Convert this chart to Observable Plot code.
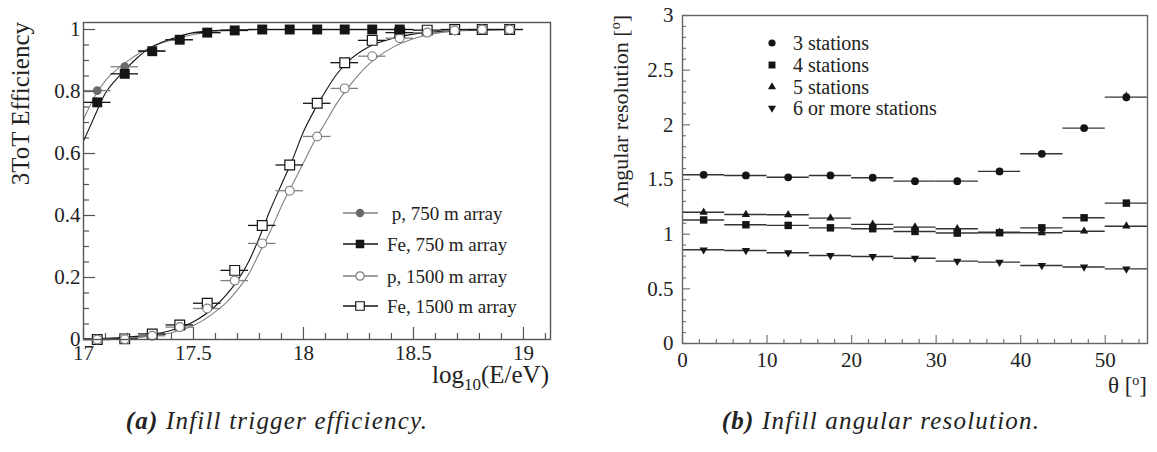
<!DOCTYPE html>
<html><head><meta charset="utf-8">
<script src="https://cdn.jsdelivr.net/npm/d3@7"></script>
<script src="https://cdn.jsdelivr.net/npm/@observablehq/plot@0.6"></script>
<style>
html,body{margin:0;padding:0;background:#fff;}
#wrap{position:relative;width:1157px;height:452px;overflow:hidden;font-family:"Liberation Serif",serif;color:#222;}
#left{position:absolute;left:0;top:0;}
#right{position:absolute;left:590px;top:0;}
.cap{position:absolute;top:407px;font-family:"Liberation Serif",serif;font-style:italic;font-size:25px;letter-spacing:1.2px;white-space:nowrap;transform:translateX(-50%);color:#222;}
</style></head><body>
<div id="wrap"><div id="left"></div><div id="right"></div>
<div class="cap" style="left:277px"><b>(a)</b> Infill trigger efficiency.</div>
<div class="cap" style="left:881px"><b>(b)</b> Infill angular resolution.</div>
</div>
<script>
// ---------- (a) trigger efficiency ----------
const logE = [17.0625, 17.1875, 17.3125, 17.4375, 17.5625, 17.6875, 17.8125, 17.9375, 18.0625, 18.1875, 18.3125, 18.4375, 18.5625, 18.6875, 18.8125, 18.9375];
const logEHalfWidth = 0.0625;
const effP750   = [0.803, 0.880, 0.932, 0.967, 0.990, 0.997, 1, 1, 1, 1, 1, 1];
const effFe750  = [0.765, 0.857, 0.930, 0.967, 0.990, 0.997, 1, 1, 1, 1, 1, 1];
const effP1500  = [0.0, 0.001, 0.012, 0.040, 0.100, 0.190, 0.310, 0.480, 0.655, 0.810, 0.914, 0.972, 0.990, 0.997, 1, 1];
const effFe1500 = [0.0, 0.002, 0.018, 0.047, 0.117, 0.223, 0.368, 0.563, 0.762, 0.893, 0.965, 0.990, 0.998, 1, 1, 1];
// fitted curves as [log10 E, efficiency]
const fitP750 = [[17.0,0.71],[17.06,0.795],[17.1,0.835],[17.15,0.87],[17.2,0.898],[17.25,0.922],[17.3,0.94],[17.35,0.955],[17.4,0.966],[17.45,0.976],[17.5,0.984],[17.6,0.994],[17.7,0.998],[17.8,1.0],[18.5,1.0]];
const fitFe750 = [[17.0,0.64],[17.044,0.71],[17.1,0.795],[17.15,0.84],[17.2,0.878],[17.25,0.912],[17.3,0.94],[17.35,0.957],[17.4,0.97],[17.45,0.981],[17.5,0.99],[17.6,0.997],[17.7,0.999],[17.8,1.0],[18.5,1.0]];
const fitP1500 = [[17.0,0.001],[17.1,0.002],[17.2,0.005],[17.3,0.01],[17.4,0.022],[17.5,0.045],[17.6,0.09],[17.65,0.12],[17.7,0.16],[17.75,0.21],[17.8,0.28],[17.85,0.35],[17.9,0.43],[17.95,0.5],[18.0,0.57],[18.05,0.64],[18.1,0.70],[18.15,0.76],[18.2,0.81],[18.3,0.89],[18.4,0.94],[18.5,0.97],[18.6,0.987],[18.7,0.995],[18.8,0.998],[18.94,1.0]];
const fitFe1500 = [[17.0,0.002],[17.1,0.004],[17.2,0.008],[17.3,0.015],[17.4,0.03],[17.5,0.057],[17.6,0.108],[17.65,0.145],[17.7,0.19],[17.75,0.25],[17.8,0.33],[17.85,0.42],[17.9,0.5],[17.95,0.58],[18.0,0.67],[18.05,0.74],[18.1,0.80],[18.15,0.855],[18.2,0.895],[18.3,0.945],[18.4,0.97],[18.5,0.985],[18.6,0.993],[18.7,0.997],[18.8,0.999],[18.94,1.0]];
const effTicks = [0, 0.2, 0.4, 0.6, 0.8, 1];
const effMinor = [0.05,0.1,0.15,0.25,0.3,0.35,0.45,0.5,0.55,0.65,0.7,0.75,0.85,0.9,0.95];
const logETicks = [17, 17.5, 18, 18.5, 19];
const logEMinor = [17.1,17.2,17.3,17.4,17.6,17.7,17.8,17.9,18.1,18.2,18.3,18.4,18.6,18.7,18.8,18.9,19.1];
const legendA = [" p, 750 m array", "Fe, 750 m array", "p, 1500 m array", "Fe, 1500 m array"];

// ---------- (b) angular resolution ----------
const theta = [2.5, 7.5, 12.5, 17.5, 22.5, 27.5, 32.5, 37.5, 42.5, 47.5, 52.5];
const thetaHalfWidth = 2.5;
const res3 = [1.543, 1.537, 1.520, 1.537, 1.516, 1.485, 1.485, 1.574, 1.735, 1.970, 2.253];
const res3Err = [0.01, 0.01, 0.01, 0.01, 0.01, 0.01, 0.01, 0.012, 0.015, 0.02, 0.045];
const res4 = [1.130, 1.086, 1.080, 1.058, 1.050, 1.025, 1.010, 1.013, 1.058, 1.150, 1.284];
const res5 = [1.200, 1.180, 1.177, 1.147, 1.090, 1.064, 1.050, 1.018, 1.013, 1.027, 1.073];
const res6 = [0.857, 0.851, 0.830, 0.805, 0.796, 0.780, 0.753, 0.744, 0.714, 0.700, 0.683];
const resTicks = [0, 0.5, 1, 1.5, 2, 2.5, 3];
const resMinor = d3.range(0, 30).map(i => i / 10).filter(v => Math.round(v * 10) % 5 !== 0);
const thetaTicks = [0, 10, 20, 30, 40, 50];
const thetaMinor = [2,4,6,8,12,14,16,18,22,24,26,28,32,34,36,38,42,44,46,48,52,54];
const legendB = ["3 stations", "4 stations", "5 stations", "6 or more stations"];

const toRows = (xs, ys) => ys.map((y, i) => ({x: xs[i], y}));
const INK = "#151515", GREY = "#808080", FRAME = "#555";
const FONT = "'Liberation Serif', 'Times New Roman', serif";

// ===== left plot =====
const LW = 590, LH = 400, LML = 83, LMR = 40, LMT = 22, LMB = 61;
const lIW = LW - LML - LMR, lIH = LH - LMT - LMB;
const rP750 = toRows(logE, effP750), rFe750 = toRows(logE, effFe750);
const rP1500 = toRows(logE, effP1500), rFe1500 = toRows(logE, effFe1500);
const fitRows = a => a.map(([x, y]) => ({x, y}));
const errX = (rows, color) => Plot.ruleY(rows, {y: "y", x1: d => d.x - logEHalfWidth, x2: d => d.x + logEHalfWidth, stroke: color, strokeWidth: 1.3});

const left = Plot.plot({
  width: LW, height: LH, marginLeft: LML, marginRight: LMR, marginTop: LMT, marginBottom: LMB,
  style: {fontFamily: FONT, fontSize: "21px", color: "#222", background: "#fff"},
  x: {domain: [17, 19.123]},
  y: {domain: [0, 1.0226]},
  marks: [
    Plot.tickX(logETicks, {x: d => d, insetTop: lIH - 12, stroke: FRAME, strokeWidth: 1.2}),
    Plot.tickX(logEMinor, {x: d => d, insetTop: lIH - 6, stroke: FRAME, strokeWidth: 1.2}),
    Plot.tickY(effTicks, {y: d => d, insetRight: lIW - 12, stroke: FRAME, strokeWidth: 1.2}),
    Plot.tickY(effMinor, {y: d => d, insetRight: lIW - 6, stroke: FRAME, strokeWidth: 1.2}),
    Plot.axisX({ticks: logETicks, tickSize: 0, tickPadding: 6, tickFormat: d => String(d), label: null, fill: "#222", fontFamily: FONT}),
    Plot.axisY({ticks: effTicks, tickSize: 0, tickPadding: 3, tickFormat: d => String(d), label: null, fill: "#222", fontFamily: FONT}),
    Plot.line(fitRows(fitP1500), {x: "x", y: "y", stroke: GREY, strokeWidth: 1.1, curve: "monotone-x"}),
    Plot.line(fitRows(fitFe1500), {x: "x", y: "y", stroke: INK, strokeWidth: 1.1, curve: "monotone-x"}),
    Plot.line(fitRows(fitP750), {x: "x", y: "y", stroke: GREY, strokeWidth: 1.1, curve: "monotone-x"}),
    Plot.line(fitRows(fitFe750), {x: "x", y: "y", stroke: INK, strokeWidth: 1.1, curve: "monotone-x"}),
    errX(rP1500, GREY), errX(rFe1500, INK), errX(rP750, GREY), errX(rFe750, INK),
    Plot.dot(rFe1500, {x: "x", y: "y", symbol: "square", r: 5.5, fill: "white", stroke: INK, strokeWidth: 1.2}),
    Plot.dot(rP1500, {x: "x", y: "y", symbol: "circle", r: 4.4, fill: "white", stroke: GREY, strokeWidth: 1.2}),
    Plot.dot(rP750, {x: "x", y: "y", symbol: "circle", r: 4.4, fill: "#6a6a6a", stroke: "none"}),
    Plot.dot(rFe750, {x: "x", y: "y", symbol: "square", r: 5.6, fill: INK, stroke: "none"}),
    Plot.frame({stroke: FRAME, strokeWidth: 1.4})
  ]
});
document.getElementById("left").appendChild(left);

// ===== right plot =====
const RW = 567, RH = 400, RML = 92, RMR = 10, RMT = 15, RMB = 57;
const rIW = RW - RML - RMR, rIH = RH - RMT - RMB;
const r3 = theta.map((x, i) => ({x, y: res3[i], e: res3Err[i]}));
const r4 = toRows(theta, res4), r5 = toRows(theta, res5), r6 = toRows(theta, res6);
const errT = rows => Plot.ruleY(rows, {y: "y", x1: d => d.x - thetaHalfWidth, x2: d => d.x + thetaHalfWidth, stroke: "#333", strokeWidth: 1.4});

const right = Plot.plot({
  width: RW, height: RH, marginLeft: RML, marginRight: RMR, marginTop: RMT, marginBottom: RMB,
  style: {fontFamily: FONT, fontSize: "21px", color: "#222", background: "#fff"},
  x: {domain: [0, 55]},
  y: {domain: [0, 3]},
  marks: [
    Plot.tickX(thetaTicks, {x: d => d, insetTop: rIH - 8, stroke: "#777", strokeWidth: 1.2}),
    Plot.tickX(thetaMinor, {x: d => d, insetTop: rIH - 4, stroke: "#777", strokeWidth: 1.2}),
    Plot.tickY(resTicks, {y: d => d, insetRight: rIW - 8, stroke: "#777", strokeWidth: 1.2}),
    Plot.tickY(resMinor, {y: d => d, insetRight: rIW - 4, stroke: "#777", strokeWidth: 1.2}),
    Plot.axisX({ticks: thetaTicks, tickSize: 0, tickPadding: 9, tickFormat: d => String(d), label: null, fill: "#222", fontFamily: FONT}),
    Plot.axisY({ticks: resTicks, tickSize: 0, tickPadding: 9, tickFormat: d => String(d), label: null, fill: "#222", fontFamily: FONT}),
    errT(r6), errT(r5), errT(r4), errT(r3),
    Plot.ruleX(r3, {x: "x", y1: d => d.y - d.e, y2: d => d.y + d.e, stroke: "#333", strokeWidth: 1.4}),
    Plot.dot(r6, {x: "x", y: "y", symbol: "triangle", r: 3.1, rotate: 180, fill: INK, stroke: "none"}),
    Plot.dot(r5, {x: "x", y: "y", symbol: "triangle", r: 3.1, fill: INK, stroke: "none"}),
    Plot.dot(r4, {x: "x", y: "y", symbol: "square", r: 4.2, fill: INK, stroke: "none"}),
    Plot.dot(r3, {x: "x", y: "y", symbol: "circle", r: 3.9, fill: INK, stroke: "none"}),
    Plot.frame({stroke: "#666", strokeWidth: 1.4})
  ]
});
document.getElementById("right").appendChild(right);

// ===== axis titles (with sub/superscripts) and legends =====
const ls = d3.select(left), rs = d3.select(right);
ls.append("text").attr("transform", `translate(29,${LMT}) rotate(-90)`).attr("text-anchor", "end")
  .attr("font-family", FONT).attr("font-size", 25).attr("fill", "#222").text("3ToT Efficiency");
const xl = ls.append("text").attr("x", LW - LMR - 1).attr("y", 383).attr("text-anchor", "end")
  .attr("font-family", FONT).attr("font-size", 25).attr("fill", "#222");
xl.append("tspan").text("log");
xl.append("tspan").attr("dy", 7).attr("font-size", 17).text("10");
xl.append("tspan").attr("dy", -7).text("(E/eV)");

const yl = rs.append("text").attr("transform", `translate(38,${RMT}) rotate(-90)`).attr("text-anchor", "end")
  .attr("font-family", FONT).attr("font-size", 22).attr("fill", "#222");
yl.append("tspan").text("Angular resolution [");
yl.append("tspan").attr("dy", -8).attr("font-size", 14).text("o");
yl.append("tspan").attr("dy", 8).text("]");
const tl = rs.append("text").attr("x", RW - RMR).attr("y", 393).attr("text-anchor", "end")
  .attr("font-family", FONT).attr("font-size", 23).attr("fill", "#222");
tl.append("tspan").text("θ [");
tl.append("tspan").attr("dy", -8).attr("font-size", 14).text("o");
tl.append("tspan").attr("dy", 8).text("]");

// legend (a)
const legAStyle = [
  {sym: d3.symbolCircle, r: 4.2, fill: "#6a6a6a", stroke: "none", line: GREY},
  {sym: d3.symbolSquare, r: 4.8, fill: INK, stroke: "none", line: INK},
  {sym: d3.symbolCircle, r: 4.2, fill: "white", stroke: GREY, line: GREY},
  {sym: d3.symbolSquare, r: 4.8, fill: "white", stroke: INK, line: INK}
];
const legAY = [213, 244, 276, 306];
legendA.forEach((lab, i) => {
  const s = legAStyle[i], g = ls.append("g").attr("transform", `translate(360,${legAY[i]})`);
  g.append("line").attr("x1", -17).attr("x2", 18).attr("stroke", s.line).attr("stroke-width", 1.3);
  g.append("path").attr("d", d3.symbol(s.sym, s.r * s.r * Math.PI)()).attr("fill", s.fill).attr("stroke", s.stroke).attr("stroke-width", 1.2);
  g.append("text").attr("x", 27).attr("dy", "0.35em").attr("text-anchor", "start").attr("font-family", FONT)
    .attr("font-size", 19).attr("fill", "#222").style("white-space", "pre").text(lab);
});
// legend (b)
const legBSym = [
  {sym: d3.symbolCircle, r: 3.6, rot: 0},
  {sym: d3.symbolSquare, r: 3.9, rot: 0},
  {sym: d3.symbolTriangle, r: 3.0, rot: 0},
  {sym: d3.symbolTriangle, r: 3.0, rot: 180}
];
const legBY = [43, 65, 87, 108];
legendB.forEach((lab, i) => {
  const s = legBSym[i], g = rs.append("g").attr("transform", `translate(182,${legBY[i]})`);
  g.append("path").attr("d", d3.symbol(s.sym, s.r * s.r * Math.PI)()).attr("transform", `rotate(${s.rot})`).attr("fill", INK);
  g.append("text").attr("x", 21).attr("dy", "0.35em").attr("text-anchor", "start").attr("font-family", FONT)
    .attr("font-size", 20).attr("fill", "#222").text(lab);
});
</script>
</body></html>
